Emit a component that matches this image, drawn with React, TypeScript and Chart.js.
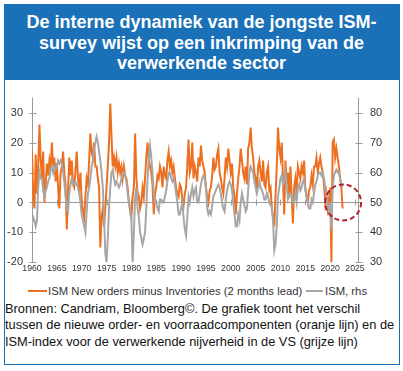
import React, { useEffect, useRef } from "react";
import { Chart, registerables } from "chart.js";

Chart.register(...registerables);

const FONT = 'Arial, "Liberation Sans", sans-serif';

// Quarterly observations starting in 1960 Q1
const startYear = 1960;
const stepYears = 0.25;

// ISM New orders minus Inventories (2 months lead), left axis
const newOrdersMinusInventories = [
  17, 2, -2, 16, // 1960
  3, 12, 26, 14, // 1961
  8, 17, 0, 6, // 1962
  13, 9, 14, 11, // 1963
  20, 12, 15, 7, // 1964
  13, 5, -2, 10, // 1965
  12, 17, 10, 6, // 1966
  -9, 4, 15, 9, // 1967
  14, 6, 5, 11, // 1968
  17, 8, 5, 10, // 1969
  0, -3, -5, 2, // 1970
  8, 6, 14, 23, // 1971
  17, 15, 20, 12, // 1972
  12, 8, 5, -15, // 1973
  -5, -2, -8, -2, // 1974
  5, 12, 20, 33, // 1975
  22, 12, 15, 12, // 1976
  15, 10, 13, 10, // 1977
  12, 8, 12, 9, // 1978
  8, 5, 0, -3, // 1979
  -5, 2, 5, 23, // 1980
  8, 3, 2, -2, // 1981
  0, 5, 2, 8, // 1982
  15, 20, 14, 12, // 1983
  10, 6, -4, 3, // 1984
  5, 9, 8, 12, // 1985
  10, 5, 12, 9, // 1986
  8, 14, 17, 12, // 1987
  14, 10, 12, 8, // 1988
  5, 3, 2, 6, // 1989
  5, 1, -1, 3, // 1990
  5, 12, 21, 10, // 1991
  12, 20, 8, 12, // 1992
  10, 7, 15, 12, // 1993
  19, 14, 12, 10, // 1994
  5, 2, 0, 4, // 1995
  5, 9, 15, 11, // 1996
  12, 16, 18, 10, // 1997
  8, 5, 3, 8, // 1998
  15, 12, 18, 14, // 1999
  10, 13, 5, 2, // 2000
  -4, 3, 8, 12, // 2001
  18, 14, 10, 8, // 2002
  12, 6, 18, 20, // 2003
  25, 18, 15, 10, // 2004
  8, 4, 12, 14, // 2005
  10, 7, 14, 6, // 2006
  5, 10, 12, 4, // 2007
  5, -2, -5, -8, // 2008
  2, 12, 25, 18, // 2009
  15, 20, 8, -4, // 2010
  14, 6, 10, 2, // 2011
  12, 2, -7, 5, // 2012
  8, 3, 12, 10, // 2013
  8, 12, 10, 14, // 2014
  5, 2, 0, 4, // 2015
  5, 9, 6, 12, // 2016
  12, 15, 10, 13, // 2017
  15, 12, 10, 6, // 2018
  0, 3, -2, 1, // 2019
  5, -20, 20, 21, // 2020
  15, 18, 15, 12, // 2021
  8, 5, -2, // 2022
];

// ISM manufacturing index, right axis
const ismIndex = [
  43, 45, 44, 42, // 1960
  44, 55, 60, 58, // 1961
  58, 54, 52, 54, // 1962
  55, 57, 58, 61, // 1963
  62, 60, 62, 61, // 1964
  62, 64, 63, 64, // 1965
  63, 60, 57, 52, // 1966
  48, 47, 53, 56, // 1967
  58, 56, 56, 57, // 1968
  56, 55, 53, 50, // 1969
  46, 44, 42, 40, // 1970
  47, 53, 55, 58, // 1971
  62, 64, 68, 70, // 1972
  72, 70, 67, 64, // 1973
  60, 55, 45, 33, // 1974
  30, 38, 48, 55, // 1975
  60, 61, 58, 56, // 1976
  57, 56, 55, 56, // 1977
  58, 60, 60, 59, // 1978
  57, 53, 50, 48, // 1979
  44, 30, 40, 52, // 1980
  55, 48, 45, 40, // 1981
  38, 36, 38, 40, // 1982
  48, 58, 65, 69, // 1983
  65, 60, 53, 50, // 1984
  50, 48, 47, 51, // 1985
  51, 50, 50, 52, // 1986
  54, 57, 60, 60, // 1987
  58, 57, 58, 56, // 1988
  53, 50, 46, 46, // 1989
  48, 50, 45, 41, // 1990
  39, 45, 52, 50, // 1991
  53, 55, 52, 54, // 1992
  55, 50, 50, 53, // 1993
  56, 58, 59, 58, // 1994
  55, 48, 46, 47, // 1995
  46, 49, 52, 53, // 1996
  54, 55, 56, 55, // 1997
  53, 50, 48, 47, // 1998
  51, 54, 56, 57, // 1999
  56, 54, 50, 46, // 2000
  42, 42, 46, 44, // 2001
  50, 53, 51, 49, // 2002
  47, 48, 54, 60, // 2003
  62, 61, 60, 57, // 2004
  55, 53, 55, 57, // 2005
  55, 54, 53, 51, // 2006
  51, 53, 52, 50, // 2007
  49, 49, 44, 34, // 2008
  36, 42, 52, 55, // 2009
  58, 59, 56, 57, // 2010
  60, 56, 51, 52, // 2011
  53, 52, 50, 51, // 2012
  53, 50, 55, 56, // 2013
  54, 55, 57, 58, // 2014
  54, 52, 50, 48, // 2015
  48, 51, 50, 53, // 2016
  56, 57, 59, 60, // 2017
  60, 59, 60, 58, // 2018
  55, 52, 49, 47, // 2019
  50, 41, 55, 59, // 2020
  60, 61, 60, 60, // 2021
  58, 56, 55, // 2022
];

const xTickYears = [1960, 1965, 1970, 1975, 1980, 1985, 1990, 1995, 2000, 2005, 2010, 2015, 2020, 2025];
const leftTicks = [-20, -10, 0, 10, 20, 30];
const rightTicks = [30, 40, 50, 60, 70, 80];
const highlightYear = 2022.6;

const seriesLabels = ["ISM New orders minus Inventories (2 months lead)", "ISM, rhs"];
const ORANGE = "#ec7020";
const GRAY = "#a7a7a7";
const AXIS = "#9a9a9a";

const decoPlugin = {
  id: "deco",
  beforeDatasetsDraw(chart: any) {
    const { ctx, chartArea, scales } = chart;
    const xs = scales.x;
    const ys = scales.y;
    ctx.save();
    ctx.strokeStyle = AXIS;
    ctx.lineWidth = 1;
    const top = chartArea.top;
    const bottom = chartArea.bottom;
    const left = Math.round(chartArea.left) + 0.5;
    const right = Math.round(chartArea.right) - 0.5;
    // vertical axes
    ctx.beginPath();
    ctx.moveTo(left, top);
    ctx.lineTo(left, bottom);
    ctx.moveTo(right, top);
    ctx.lineTo(right, bottom);
    // tick marks crossing axes
    leftTicks.forEach((v) => {
      const y = Math.round(ys.getPixelForValue(v)) + 0.5;
      ctx.moveTo(left - 3, y);
      ctx.lineTo(left + 4, y);
    });
    rightTicks.forEach((v) => {
      const y = Math.round(scales.y1.getPixelForValue(v)) + 0.5;
      ctx.moveTo(right - 3, y);
      ctx.lineTo(right + 4, y);
    });
    // zero line
    const zy = Math.round(ys.getPixelForValue(0)) + 0.5;
    ctx.moveTo(left, zy);
    ctx.lineTo(right, zy);
    xTickYears.forEach((yr) => {
      const x = Math.round(xs.getPixelForValue(yr)) + 0.5;
      ctx.moveTo(x, zy - 3);
      ctx.lineTo(x, zy + 3);
    });
    ctx.stroke();
    ctx.restore();
  },
  afterDatasetsDraw(chart: any) {
    const { ctx, scales } = chart;
    const cx = scales.x.getPixelForValue(highlightYear);
    const cy = scales.y.getPixelForValue(0);
    ctx.save();
    ctx.strokeStyle = "#b5202b";
    ctx.lineWidth = 2;
    ctx.setLineDash([5, 3]);
    ctx.beginPath();
    ctx.arc(cx, cy, 18, 0, Math.PI * 2);
    ctx.stroke();
    ctx.restore();
  },
};

function ChartCanvas() {
  const ref = useRef<HTMLCanvasElement | null>(null);
  useEffect(() => {
    if (!ref.current) return;
    const orangePts = newOrdersMinusInventories.map((v, i) => ({ x: startYear + i * stepYears, y: v }));
    const grayPts = ismIndex.map((v, i) => ({ x: startYear + i * stepYears, y: v }));
    const tickFont = { family: FONT, size: 11 };
    const chart = new Chart(ref.current, {
      type: "line",
      data: {
        datasets: [
          {
            label: seriesLabels[0],
            data: orangePts,
            borderColor: ORANGE,
            borderWidth: 2,
            pointRadius: 0,
            tension: 0,
            yAxisID: "y",
            order: 1,
          },
          {
            label: seriesLabels[1],
            data: grayPts,
            borderColor: GRAY,
            borderWidth: 2,
            pointRadius: 0,
            tension: 0,
            yAxisID: "y1",
            order: 0,
          },
        ],
      },
      options: {
        animation: false,
        responsive: false,
        maintainAspectRatio: false,
        events: [],
        layout: { padding: { top: 12, left: 0, right: 0, bottom: 0 } },
        plugins: { legend: { display: false }, tooltip: { enabled: false } },
        scales: {
          x: {
            type: "linear",
            position: "bottom",
            min: 1960,
            max: 2025.8,
            afterBuildTicks: (s: any) => {
              s.ticks = xTickYears.map((v) => ({ value: v }));
            },
            afterFit: (s: any) => {
              s.height = 16;
            },
            ticks: {
              font: { family: FONT, size: 8.7 },
              color: "#333",
              padding: 1,
              maxRotation: 0,
              autoSkip: false,
              callback: (v: any) => String(v),
            },
            grid: { display: false, drawTicks: false },
            border: { display: false },
          },
          y: {
            position: "left",
            min: -20,
            max: 35,
            afterBuildTicks: (s: any) => {
              s.ticks = leftTicks.map((v) => ({ value: v }));
            },
            afterFit: (s: any) => {
              s.width = 32;
            },
            ticks: { font: tickFont, color: "#333", padding: 9 },
            grid: { display: false, drawTicks: false },
            border: { display: false },
          },
          y1: {
            position: "right",
            min: 30,
            max: 85,
            afterBuildTicks: (s: any) => {
              s.ticks = rightTicks.map((v) => ({ value: v }));
            },
            afterFit: (s: any) => {
              s.width = 44;
            },
            ticks: { font: tickFont, color: "#333", padding: 11 },
            grid: { display: false, drawTicks: false },
            border: { display: false },
          },
        },
      },
      plugins: [decoPlugin],
    } as any);
    return () => chart.destroy();
  }, []);
  return (
    <canvas
      ref={ref}
      width={403}
      height={200}
      style={{ position: "absolute", left: 0, top: 80, width: 403, height: 200, display: "block" }}
    />
  );
}

export default function App() {
  const titleLines = ["De interne dynamiek van de jongste ISM-", "survey wijst op een inkrimping van de", "verwerkende sector"];
  const captionLines = [
    "Bronnen: Candriam, Bloomberg©. De grafiek toont het verschil",
    "tussen de nieuwe order- en voorraadcomponenten (oranje lijn) en de",
    "ISM-index voor de verwerkende nijverheid in de VS (grijze lijn)",
  ];
  return (
    <div style={{ position: "absolute", left: 0, top: 0, width: 403, height: 371, background: "#fff", fontFamily: FONT, overflow: "hidden" }}>
      <div style={{ position: "absolute", left: 4, top: 4, width: 393.5, height: 358.5, border: "1.5px solid #1a6fb4" }} />
      <div
        style={{
          position: "absolute",
          left: 4,
          top: 4,
          width: 395,
          height: 76,
          background: "#1a71b8",
          color: "#fff",
          fontWeight: "bold",
          fontSize: 18,
          lineHeight: "20.5px",
          textAlign: "center",
        }}
      >
        <div style={{ paddingTop: 8 }}>
          {titleLines.map((t, i) => (
            <div key={i} style={{ whiteSpace: "nowrap" }}>{t}</div>
          ))}
        </div>
      </div>
      <ChartCanvas />
      <div style={{ position: "absolute", left: 28, top: 290, width: 19, height: 2, background: ORANGE }} />
      <div style={{ position: "absolute", left: 48, top: 284, fontSize: 11.3, lineHeight: "14px", color: "#333", whiteSpace: "nowrap" }}>
        {seriesLabels[0]}
      </div>
      <div style={{ position: "absolute", left: 306, top: 290, width: 17, height: 2, background: GRAY }} />
      <div style={{ position: "absolute", left: 325, top: 284, fontSize: 11.3, lineHeight: "14px", color: "#333", whiteSpace: "nowrap" }}>
        {seriesLabels[1]}
      </div>
      <div style={{ position: "absolute", left: 5, top: 300.5, fontSize: 12.8, lineHeight: "16.5px", color: "#111" }}>
        {captionLines.map((t, i) => (
          <div key={i} style={{ whiteSpace: "nowrap" }}>{t}</div>
        ))}
      </div>
    </div>
  );
}
